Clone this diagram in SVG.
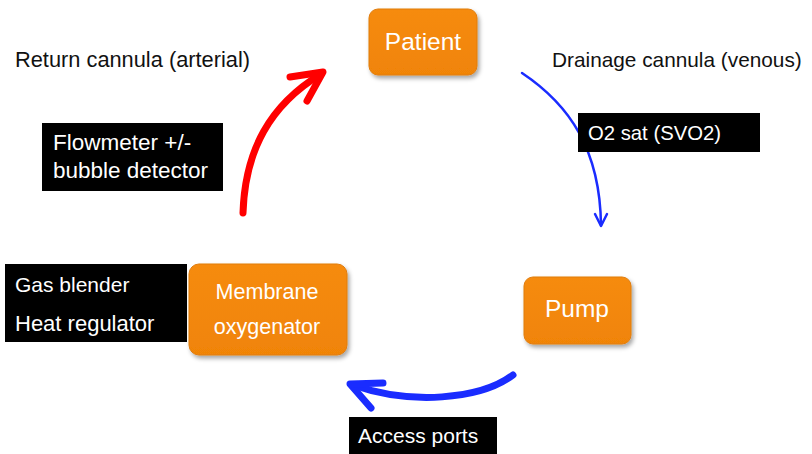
<svg xmlns="http://www.w3.org/2000/svg" width="812" height="454" viewBox="0 0 812 454">
  <defs>
    <filter id="shadow" x="-10%" y="-10%" width="130%" height="140%">
      <feDropShadow dx="2" dy="3" stdDeviation="2" flood-color="#000" flood-opacity="0.35"/>
    </filter>
    <linearGradient id="orange" x1="0" y1="0" x2="0" y2="1">
      <stop offset="0" stop-color="#F68B10"/>
      <stop offset="1" stop-color="#F08406"/>
    </linearGradient>
  </defs>
  <style>
    .node { fill: url(#orange); stroke: #E07C0A; stroke-width: 1; filter: url(#shadow); }
    .nlabel { font-family: "Liberation Sans", Arial, sans-serif; fill: #ffffff; text-anchor: middle; }
    .label { font-family: "Liberation Sans", Arial, sans-serif; fill: #111111; }
    .blk { fill: #000000; }
    .wlabel { font-family: "Liberation Sans", Arial, sans-serif; fill: #ffffff; }
    .red { fill: none; stroke: #FF0000; stroke-width: 7; stroke-linecap: round; stroke-linejoin: round; }
    .blue { fill: none; stroke: #1A2CFF; stroke-width: 7; stroke-linecap: round; stroke-linejoin: round; }
    .bluethin { fill: none; stroke: #1A2CFF; stroke-width: 2.5; stroke-linecap: round; stroke-linejoin: round; }
  </style>
  <rect width="812" height="454" fill="#ffffff"/>

  <g id="connectors">
    <path class="bluethin" d="M522,73 C570,105 600,150 601,225"/>
    <path class="bluethin" d="M595,214 L601,226 L607,214"/>
    <path class="blue" d="M513,375 C480,400 410,405 353,385"/>
    <path class="blue" d="M383,383 L350,384 L371,408"/>
    <path class="red" d="M243,213 C245,150 270,105 321,74"/>
    <path class="red" d="M290,77 L323,72 L307,101"/>
  </g>

  <g id="return-label">
    <text class="label" x="15" y="67" font-size="21.8">Return cannula (arterial)</text>
  </g>
  <g id="drainage-label">
    <text class="label" x="552" y="67" font-size="20.8">Drainage cannula (venous)</text>
  </g>

  <g id="patient">
    <rect class="node" x="369" y="9" width="108" height="66" rx="9"/>
    <text class="nlabel" x="423" y="50" font-size="24.5">Patient</text>
  </g>

  <g id="pump">
    <rect class="node" x="524" y="277" width="107" height="67" rx="9"/>
    <text class="nlabel" x="577" y="317" font-size="24.5">Pump</text>
  </g>

  <g id="oxygenator">
    <rect class="node" x="189" y="264" width="158" height="91" rx="10"/>
    <text class="nlabel" x="267" y="299" font-size="21.5">Membrane</text>
    <text class="nlabel" x="267" y="334" font-size="21.5">oxygenator</text>
  </g>

  <g id="o2sat">
    <rect class="blk" x="578" y="113" width="182" height="39"/>
    <text class="wlabel" x="588" y="140" font-size="20.3">O2 sat (SVO2)</text>
  </g>

  <g id="flowmeter">
    <rect class="blk" x="42" y="123" width="181" height="68"/>
    <text class="wlabel" x="53" y="150" font-size="22.5">Flowmeter +/-</text>
    <text class="wlabel" x="53" y="178" font-size="22.5">bubble detector</text>
  </g>

  <g id="gas-blender">
    <rect class="blk" x="5" y="264" width="182" height="78"/>
    <text class="wlabel" x="15" y="292" font-size="21">Gas blender</text>
    <text class="wlabel" x="15" y="331" font-size="22">Heat regulator</text>
  </g>

  <g id="access-ports">
    <rect class="blk" x="349" y="417" width="148" height="37"/>
    <text class="wlabel" x="358" y="443" font-size="21">Access ports</text>
  </g>
</svg>
